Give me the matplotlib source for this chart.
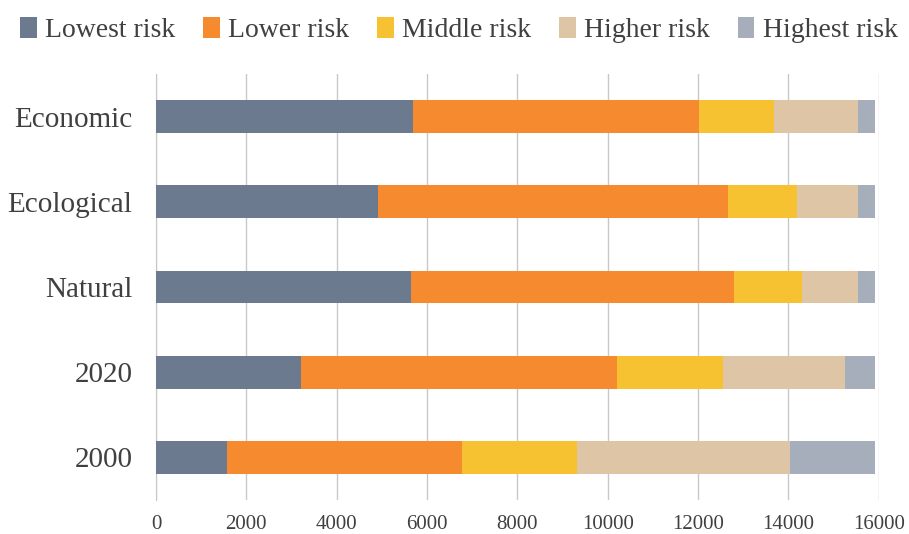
import numpy as np
import matplotlib.pyplot as plt

plt.rcParams['font.family'] = ['Liberation Serif', 'DejaVu Serif']

# categories, bottom to top
categories = ['2000', '2020', 'Natural', 'Ecological', 'Economic']
risk_levels = ['Lowest risk', 'Lower risk', 'Middle risk', 'Higher risk', 'Highest risk']

# values per risk level, same order as categories
lowest = [1570, 3203, 5652, 4908, 5683]
lower = [5212, 7011, 7148, 7756, 6332]
middle = [2532, 2345, 1507, 1528, 1664]
higher = [4731, 2700, 1245, 1360, 1873]
highest = [1873, 659, 366, 366, 366]

colors = ['#6B7A8F', '#F58A2F', '#F6C231', '#DDC5A6', '#A5AEBA']

fig = plt.figure(figsize=(9.09, 5.34), dpi=100)
ax = fig.add_axes([0.1716, 0.0637, 0.7951, 0.7977])

y = np.arange(len(categories))
left = np.zeros(len(categories))
for name, vals, c in zip(risk_levels, [lowest, lower, middle, higher, highest], colors):
    ax.barh(y, vals, left=left, height=0.387, color=c, label=name, zorder=3)
    left += np.array(vals)

ax.set_xlim(0, 16000)
ax.set_ylim(-0.5, 4.5)
ax.set_xticks(np.arange(0, 16001, 2000))
ax.set_yticks(y)
ax.set_yticklabels(categories)
ax.grid(axis='x', color='#C8C8C8', linewidth=1, zorder=0)
for s in ['top', 'right', 'bottom']:
    ax.spines[s].set_visible(False)
ax.spines['left'].set_color('#C8C8C8')
ax.tick_params(axis='both', length=0, colors='#404040')
ax.tick_params(axis='x', labelsize=15, pad=11)
ax.tick_params(axis='y', labelsize=21, pad=17)

fig.legend(loc='upper center', bbox_to_anchor=(0.505, 1.015), ncol=5, frameon=False,
           fontsize=20, handlelength=0.6, handleheight=0.8, handletextpad=0.3,
           columnspacing=1.0, labelcolor='#404040')

plt.savefig('out.png', dpi=100)
